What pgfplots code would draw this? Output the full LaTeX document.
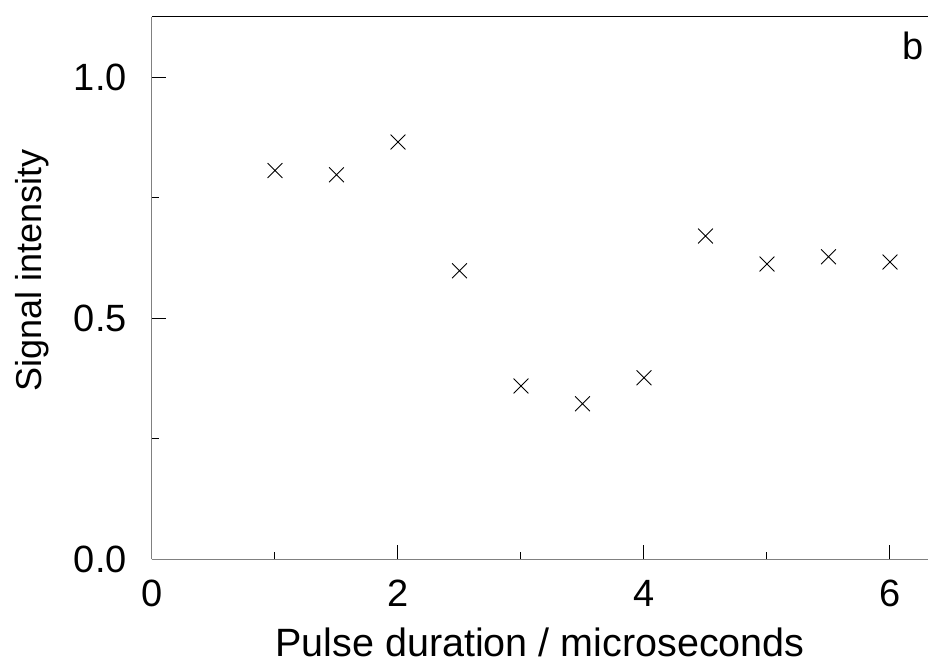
\documentclass[border=0pt]{standalone}
\usepackage{fontspec}
\setmainfont{Liberation Sans}
\usepackage{pgfplots}
\pgfplotsset{compat=1.18}
\newcommand{\bigf}{\fontsize{38}{46}\selectfont}
\begin{document}
\begin{tikzpicture}
\begin{axis}[
  scale only axis,
  width=776pt, height=542pt,
  xmin=0, xmax=6.309, ymin=0, ymax=1.1245,
  axis x line*=bottom, axis y line*=left,
  axis line style={gray, line width=1pt},
  xtick={0,2,4,6}, ytick={0,0.5,1.0},
  minor x tick num=1, minor y tick num=1,
  tick align=inside,
  major tick length=14pt, minor tick length=7pt,
  every tick/.style={black, line width=1pt},
  /pgf/number format/assume math mode=true,
  xticklabel style={anchor=north, inner sep=0pt, yshift=-21pt, font=\bigf},
  yticklabel style={/pgf/number format/fixed, /pgf/number format/fixed zerofill, /pgf/number format/precision=1, anchor=east, inner sep=0pt, xshift=-25pt, font=\bigf},
  xlabel={Pulse duration / microseconds},
  ylabel={Signal intensity},
  xlabel style={at={([yshift=-97pt]axis description cs:0.5,0)}, anchor=base, inner sep=0pt, font=\fontsize{39.5}{46}\selectfont},
  ylabel style={at={([xshift=-110pt]axis description cs:0,0.533)}, anchor=base, inner sep=0pt, font=\fontsize{36}{44}\selectfont},
  clip=false,
]
\addplot[only marks, mark=x, mark size=10.5pt, mark options={line width=0.9pt, black}] coordinates {
  (1,0.806) (1.5,0.797) (2,0.865) (2.5,0.598) (3,0.359) (3.5,0.322)
  (4,0.376) (4.5,0.670) (5,0.612) (5.5,0.627) (6,0.616)
};
\draw[black, line width=1pt] (rel axis cs:0,1) -- (rel axis cs:1,1);
\node[anchor=base west, inner sep=0pt, font=\bigf] at (rel axis cs:0.9665,0.9207) {b};
\coordinate (bl) at (rel axis cs:0,0);
\coordinate (tr) at (rel axis cs:1,1);
\end{axis}
\pgfresetboundingbox
\path ([shift={(-152pt,-105pt)}]bl) rectangle ([shift={(0pt,17pt)}]tr);
\end{tikzpicture}
\end{document}
